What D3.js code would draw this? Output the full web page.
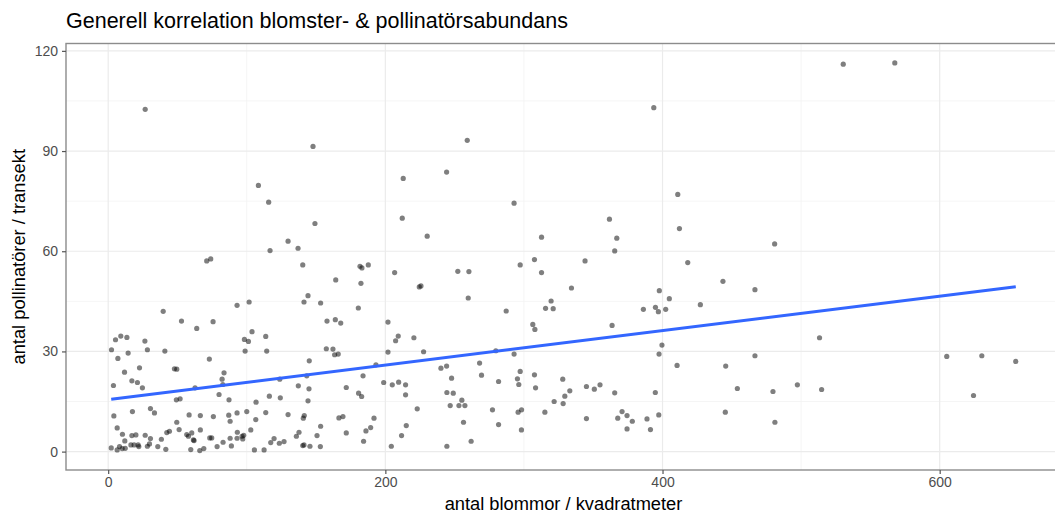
<!DOCTYPE html>
<html>
<head>
<meta charset="utf-8">
<script src="https://cdn.jsdelivr.net/npm/d3@7"></script>
<style>
  body { margin: 0; background: #fff; }
  svg text { font-family: "Liberation Sans", Arial, sans-serif; }
</style>
</head>
<body>
<div id="chart"></div>
<script>
const title = "Generell korrelation blomster- & pollinatörsabundans";
const xTitle = "antal blommor / kvadratmeter";
const yTitle = "antal pollinatörer / transekt";
const xTicks = [0, 200, 400, 600];
const xMinor = [100, 300, 500];
const yTicks = [0, 30, 60, 90, 120];
const yMinor = [15, 45, 75, 105];

// blommor per m2 (x) and pollinatörer per transekt (y), same order
const blommor = [
  26.7,108.4,115.8,116.8,129.8,137.0,147.8,149.2,212.9,244.2,
  259.1,212.2,230.2,292.9,312.7,393.7,361.7,367.0,365.5,411.0,
  412.2,480.9,530.4,567.6,71.1,74.0,93.0,101.7,39.7,52.9,
  75.7,63.9,103.8,5.3,9.1,13.5,26.5,98.3,101.2,113.7,
  2.4,28.3,40.9,98.8,114.4,14.4,7.0,73.0,22.6,47.8,
  49.5,11.8,83.6,17.1,21.1,82.2,123.8,3.8,24.7,62.7,
  82.7,137.2,80.0,116.3,124.2,49.2,51.9,87.2,106.7,4.1,
  17.5,30.5,33.4,58.4,66.5,75.9,87.0,88.0,93.0,100.0,
  113.7,129.8,106.5,6.5,49.5,51.2,10.3,17.1,20.0,16.4,
  12.0,26.7,30.5,29.8,21.6,22.1,18.7,38.4,42.3,44.2,
  56.7,57.9,60.3,61.5,62.0,66.5,73.3,74.7,82.9,88.0,
  93.2,93.0,96.6,97.8,97.1,102.9,117.3,119.7,123.5,126.9,
  135.8,137.7,2.2,6.5,8.2,10.1,12.3,28.3,35.8,41.6,
  59.6,66.1,69.0,78.6,88.9,105.5,112.5,140.4,181.7,183.1,
  187.7,206.7,252.3,260.3,297.3,307.6,164.2,182.4,224.5,225.7,
  144.2,141.3,153.3,259.8,180.5,287.2,157.9,163.9,167.8,201.9,
  306.4,307.9,209.3,207.4,220.6,157.4,162.2,163.4,166.0,145.1,
  201.9,227.6,279.7,292.9,193.2,240.1,244.2,268.0,143.3,183.9,
  247.8,269.4,297.3,307.6,198.8,205.0,209.6,214.6,144.9,171.8,
  180.7,182.9,214.6,244.4,249.0,281.7,295.3,296.3,308.4,144.2,
  255.2,246.8,253.1,257.4,223.0,277.3,295.8,298.3,141.5,140.8,
  166.5,169.4,191.8,153.3,171.8,186.0,189.4,215.1,211.7,150.7,
  256.4,281.7,298.2,140.4,141.3,145.6,153.1,184.3,204.3,244.4,
  261.9,312.7,344.1,418.2,334.3,443.6,466.7,397.7,404.9,319.6,
  315.6,321.1,386.2,394.9,397.0,402.3,427.3,363.6,399.6,397.5,
  410.5,445.6,466.7,328.0,345.1,350.8,354.9,333.1,329.5,321.8,
  328.3,365.5,394.8,454.0,479.7,315.1,345.1,367.7,370.8,374.4,
  378.2,374.4,388.8,391.3,397.3,445.3,481.1,497.3,513.3,514.8,
  605.1,630.4,654.9,624.4
];
const pollinatorer = [
  102.5,79.7,74.7,60.2,63.0,60.9,91.4,68.3,81.8,83.7,
  93.2,69.9,64.5,74.4,64.2,103.0,69.6,63.9,60.1,77.0,
  66.8,62.2,116.0,116.4,57.1,57.7,43.8,44.8,42.0,39.1,
  38.9,36.9,35.9,33.5,34.6,34.2,33.1,33.6,33.0,34.5,
  30.5,30.5,30.1,30.1,30.1,29.5,27.9,27.7,25.1,24.8,
  24.7,23.8,23.6,21.2,20.7,21.7,21.7,19.8,19.1,19.1,
  20.1,19.7,17.1,16.6,16.1,15.5,15.8,15.5,14.8,10.7,
  12.0,12.9,11.6,11.0,10.8,10.5,10.9,9.1,11.6,12.0,
  11.7,11.1,9.6,7.1,8.8,6.6,5.2,4.8,5.0,2.0,
  3.2,4.9,3.9,2.3,2.0,1.5,2.0,3.7,5.7,6.1,
  5.1,4.6,5.6,3.5,3.3,6.5,4.1,4.1,2.8,4.0,
  5.8,4.0,4.6,4.9,3.8,6.5,2.7,3.9,2.5,3.0,
  4.6,5.8,1.1,0.5,1.5,0.9,1.0,1.6,1.5,0.7,
  0.6,0.3,0.9,1.5,1.7,0.5,0.5,55.9,55.5,55.0,
  55.9,53.6,54.0,53.9,55.9,57.5,51.4,50.4,49.3,49.6,
  46.7,44.8,44.5,46.0,43.0,42.1,39.1,39.5,38.5,38.8,
  38.1,36.6,34.6,33.2,34.1,30.8,30.7,29.0,29.2,27.2,
  29.8,29.9,30.2,29.2,26.0,25.0,25.6,26.5,22.7,22.7,
  22.0,22.9,24.0,23.0,20.7,20.0,20.8,20.0,18.8,19.2,
  17.5,16.5,17.0,17.7,17.5,21.0,21.8,20.1,19.1,15.2,
  15.4,13.8,13.8,13.8,12.8,12.5,11.8,12.5,10.8,10.0,
  10.1,10.5,10.0,7.6,5.6,6.2,7.2,7.8,4.8,4.8,
  8.8,8.1,6.5,1.8,2.0,1.6,1.5,3.1,1.6,1.6,
  3.1,53.6,57.1,56.6,49.0,51.0,48.5,48.2,45.8,45.1,
  42.9,42.8,42.6,43.2,41.9,42.6,44.0,37.8,31.9,29.2,
  25.8,25.6,28.7,21.7,19.5,18.7,20.0,18.2,16.6,15.0,
  14.4,17.6,17.7,18.9,18.0,11.8,9.9,10.0,12.0,10.8,
  9.1,6.8,9.8,6.6,11.0,11.8,8.8,20.0,34.1,18.6,
  28.5,28.7,27.0,16.8
];

const width = 1055, height = 513;
const panel = { left: 66, top: 43.5, right: 1061, bottom: 470 };

const data = blommor.map((x, i) => ({ x, y: pollinatorer[i] }));

// ggplot-like 5% expansion
function expand(ext) {
  const pad = (ext[1] - ext[0]) * 0.05;
  return [ext[0] - pad, ext[1] + pad];
}

const x = d3.scaleLinear()
  .domain(expand(d3.extent(data, d => d.x)))
  .range([panel.left, panel.right]);
const y = d3.scaleLinear()
  .domain(expand(d3.extent(data, d => d.y)))
  .range([panel.bottom, panel.top]);

// least squares fit (geom_smooth method = "lm")
const mx = d3.mean(data, d => d.x), my = d3.mean(data, d => d.y);
const slope = d3.sum(data, d => (d.x - mx) * (d.y - my)) / d3.sum(data, d => (d.x - mx) ** 2);
const intercept = my - slope * mx;
const xExt = d3.extent(data, d => d.x);
const fit = xExt.map(v => ({ x: v, y: intercept + slope * v }));

const svg = d3.select("#chart").append("svg")
  .attr("width", width)
  .attr("height", height);

svg.append("defs").append("clipPath").attr("id", "clip")
  .append("rect")
  .attr("x", panel.left).attr("y", panel.top)
  .attr("width", panel.right - panel.left).attr("height", panel.bottom - panel.top);

const grid = svg.append("g");
grid.selectAll(".xminor").data(xMinor).join("line")
  .attr("x1", d => x(d)).attr("x2", d => x(d))
  .attr("y1", panel.top).attr("y2", panel.bottom)
  .attr("stroke", "#f2f2f2").attr("stroke-width", 0.8);
grid.selectAll(".yminor").data(yMinor).join("line")
  .attr("y1", d => y(d)).attr("y2", d => y(d))
  .attr("x1", panel.left).attr("x2", panel.right)
  .attr("stroke", "#f2f2f2").attr("stroke-width", 0.8);
grid.selectAll(".xmajor").data(xTicks).join("line")
  .attr("x1", d => x(d)).attr("x2", d => x(d))
  .attr("y1", panel.top).attr("y2", panel.bottom)
  .attr("stroke", "#ebebeb").attr("stroke-width", 1.2);
grid.selectAll(".ymajor").data(yTicks).join("line")
  .attr("y1", d => y(d)).attr("y2", d => y(d))
  .attr("x1", panel.left).attr("x2", panel.right)
  .attr("stroke", "#ebebeb").attr("stroke-width", 1.2);

svg.append("g")
  .attr("clip-path", "url(#clip)")
  .selectAll("circle")
  .data(data)
  .join("circle")
  .attr("cx", d => x(d.x))
  .attr("cy", d => y(d.y))
  .attr("r", 2.6)
  .attr("fill", "#000")
  .attr("fill-opacity", 0.5);

svg.append("path")
  .datum(fit)
  .attr("fill", "none")
  .attr("stroke", "#3366FF")
  .attr("stroke-width", 3)
  .attr("d", d3.line().x(d => x(d.x)).y(d => y(d.y)));

svg.append("rect")
  .attr("x", panel.left).attr("y", panel.top)
  .attr("width", panel.right - panel.left).attr("height", panel.bottom - panel.top)
  .attr("fill", "none")
  .attr("stroke", "#8c8c8c")
  .attr("stroke-width", 1.4);

// axes
const xAxis = svg.append("g")
  .attr("transform", `translate(0,${panel.bottom})`)
  .call(d3.axisBottom(x).tickValues(xTicks).tickSize(4).tickPadding(3));
const yAxis = svg.append("g")
  .attr("transform", `translate(${panel.left},0)`)
  .call(d3.axisLeft(y).tickValues(yTicks).tickSize(4).tickPadding(4));
[xAxis, yAxis].forEach(g => {
  g.select(".domain").remove();
  g.selectAll(".tick line").attr("stroke", "#555").attr("stroke-width", 1.2);
  g.selectAll(".tick text")
    .attr("fill", "#4d4d4d")
    .style("font-size", "14px")
    .style("font-family", "'Liberation Sans', Arial, sans-serif");
});

svg.append("text")
  .attr("x", panel.left).attr("y", 28)
  .attr("font-size", 21.5)
  .attr("fill", "#000")
  .text(title);

svg.append("text")
  .attr("x", (panel.left + panel.right) / 2).attr("y", 510)
  .attr("text-anchor", "middle")
  .attr("font-size", 18.3)
  .attr("fill", "#000")
  .text(xTitle);

svg.append("text")
  .attr("transform", `translate(25,${(panel.top + panel.bottom) / 2}) rotate(-90)`)
  .attr("text-anchor", "middle")
  .attr("font-size", 18.3)
  .attr("fill", "#000")
  .text(yTitle);
</script>
</body>
</html>
